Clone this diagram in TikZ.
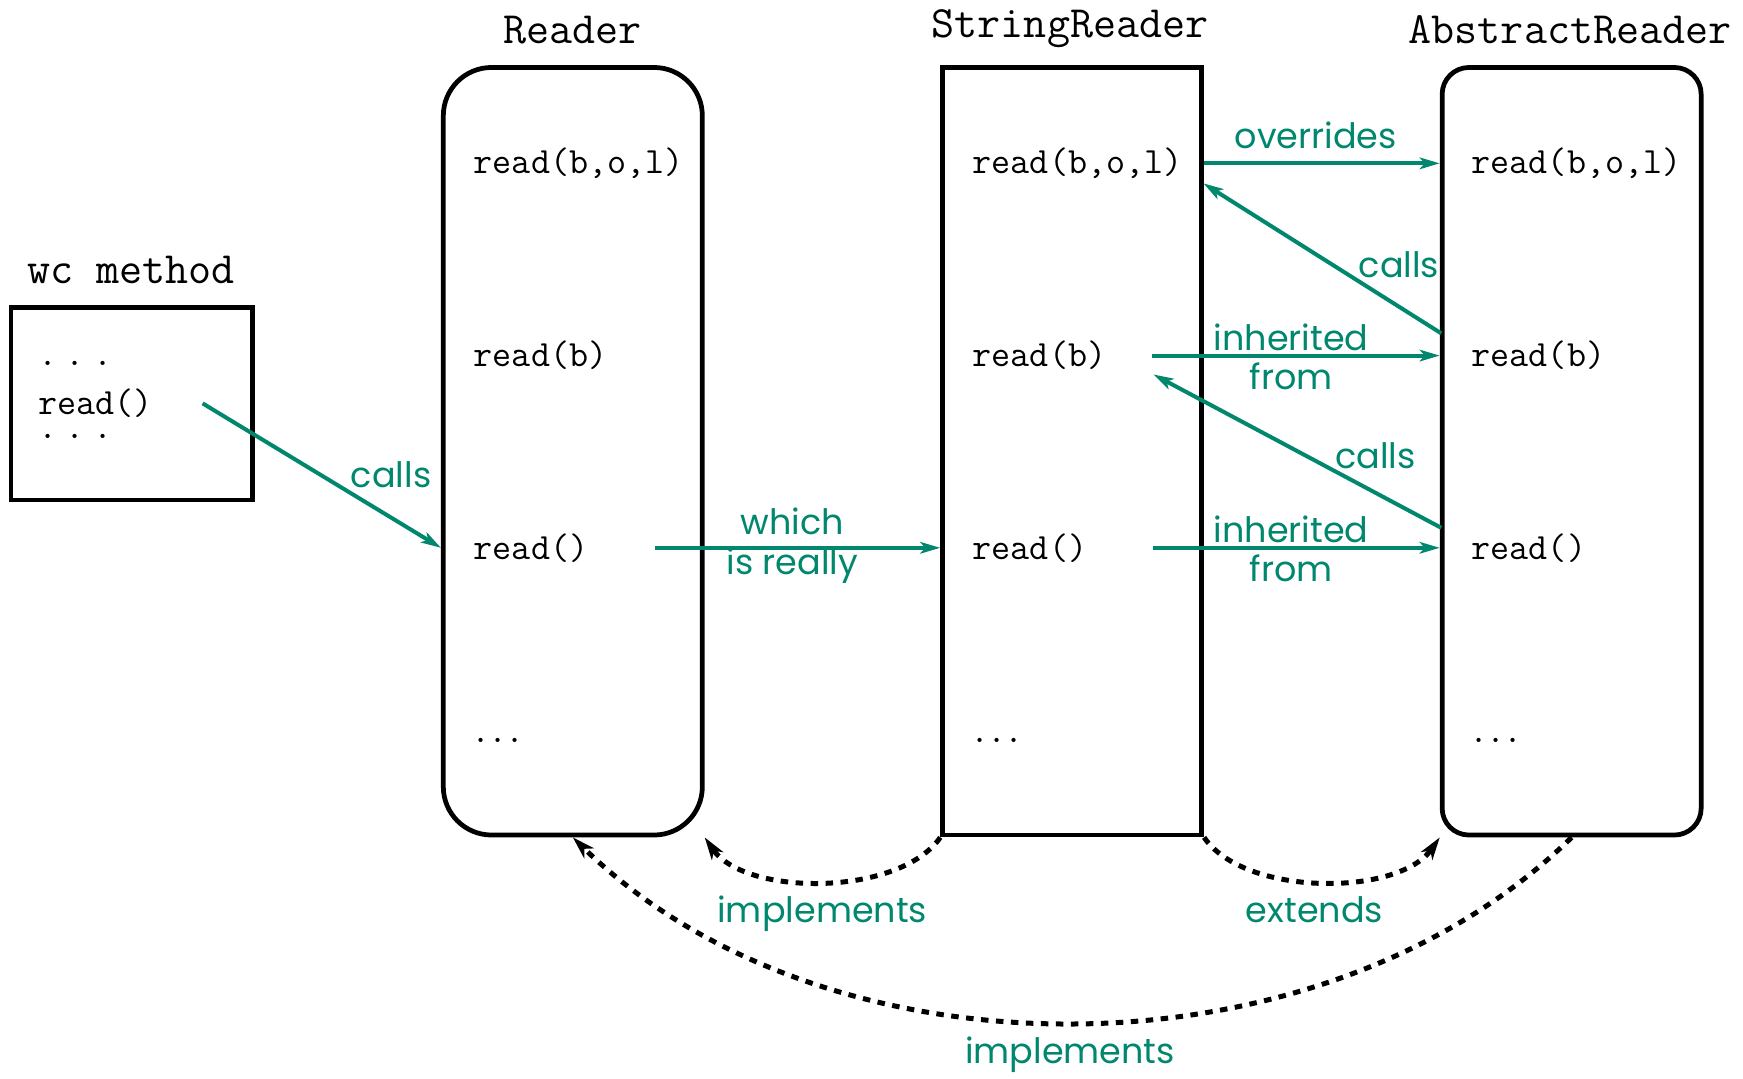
\documentclass[tikz,border=0pt]{standalone}
\usepackage{fontspec}
\newfontfamily\lblfont{Poppins}
\usetikzlibrary{arrows.meta}
\definecolor{tealA}{RGB}{0,135,110}
\begin{document}
\begin{tikzpicture}[x=0.44444pt,y=-0.44444pt,
  every node/.style={inner sep=0pt},
  cls/.style={draw,line width=1.9pt},
  title/.style={font=\ttfamily\fontsize{17.9}{20}\selectfont, anchor=base},
  meth/.style={font=\ttfamily\fontsize{14.8}{17}\selectfont, anchor=west},
  lbl/.style={font=\lblfont\fontsize{14}{15.8}\selectfont, text=tealA, align=center},
  call/.style={draw=tealA, line width=1.6pt, -{Stealth[length=8pt,width=4.6pt,inset=2pt]}},
  dep/.style={draw=black, line width=2pt, dash pattern=on 3pt off 3pt, -{Stealth[length=9pt,width=5.5pt,inset=2.5pt]}}
]
\useasboundingbox (0,0) rectangle (1568.6,971.0);

% class boxes
\node[cls, minimum width=96.5pt, minimum height=76.9pt] (wc) at (118.5,363.5) {};
\node[cls, rounded corners=19.3pt, minimum width=103.6pt, minimum height=307pt] (rdr) at (515.5,406.1) {};
\node[cls, minimum width=103.6pt, minimum height=307pt] (str) at (964.9,406.1) {};
\node[cls, rounded corners=10.7pt, minimum width=103.6pt, minimum height=307pt] (abs) at (1414.4,406.1) {};

% titles
\node[title] (tWc)  at (118,255) {wc method};
\node[title] (tRdr) at (515,39)  {Reader};
\node[title] (tStr) at (963,34)  {StringReader};
\node[title] (tAbs) at (1413,39) {AbstractReader};

% wc method content
\node[meth] (wcD1)   at (34,327) {.\kern3.4pt.\kern3.4pt.};
\node[meth] (wcRead) at (34,363) {read()};
\node[meth] (wcD2)   at (34,393) {.\kern3.4pt.\kern3.4pt.};

% Reader methods
\node[meth] (rRbol) at (426,147) {read(b,o,l)};
\node[meth] (rRb)   at (426,320) {read(b)};
\node[meth] (rRead) at (426,493) {read()};
\node[meth] (rDots) at (424,666) {.\kern-0.9pt.\kern-0.9pt.};

% StringReader methods
\node[meth] (sRbol) at (875,147) {read(b,o,l)};
\node[meth] (sRb)   at (875,320) {read(b)};
\node[meth] (sRead) at (875,493) {read()};
\node[meth] (sDots) at (873,666) {.\kern-0.9pt.\kern-0.9pt.};

% AbstractReader methods
\node[meth] (aRbol) at (1324,147) {read(b,o,l)};
\node[meth] (aRb)   at (1324,320) {read(b)};
\node[meth] (aRead) at (1324,493) {read()};
\node[meth] (aDots) at (1322,666) {.\kern-0.9pt.\kern-0.9pt.};

% helper coordinates
\coordinate (cuS) at (1297,300);
\coordinate (cuE) at (1083,165);
\coordinate (clS) at (1297,475);
\coordinate (clE) at (1038,337);

% call connectors
\draw[call] ([xshift=19.8pt]wcRead.east) -- (rdr.west |- rRead);
\draw[call] ([xshift=26.5pt]rRead.east) -- (str.west |- sRead);
\draw[call] (str.east |- sRbol) -- (abs.west |- aRbol);
\draw[call] (cuS) -- (cuE);
\draw[call] ([xshift=18.3pt]sRb.east) -- (abs.west |- aRb);
\draw[call] (clS) -- (clE);
\draw[call] ([xshift=26pt]sRead.east) -- (abs.west |- aRead);

\node[lbl] (lCalls1) at (352,427) {calls};
\node[lbl] (lWhich)  at (713,491) {which\\is really};
\node[lbl] (lOver)   at (1184,122) {overrides};
\node[lbl] (lCalls2) at (1259,238) {calls};
\node[lbl] (lInh1)   at (1162,321) {inherited\\from};
\node[lbl] (lCalls3) at (1238,410) {calls};
\node[lbl] (lInh2)   at (1162,494) {inherited\\from};

% dependency connectors
\draw[dep] (str.south west) .. controls (809,807) and (671,807) .. (rdr.south east);
\draw[dep] (str.south east) .. controls (1120,807) and (1258,807) .. (abs.south west);
\draw[dep] (abs.south) .. controls (1187,976) and (743,976) .. (rdr.south);

\node[lbl] (lImpl1) at (740,822) {implements};
\node[lbl] (lExt)   at (1183,819) {extends};
\node[lbl] (lImpl2) at (963,949) {implements};
\end{tikzpicture}
\end{document}
